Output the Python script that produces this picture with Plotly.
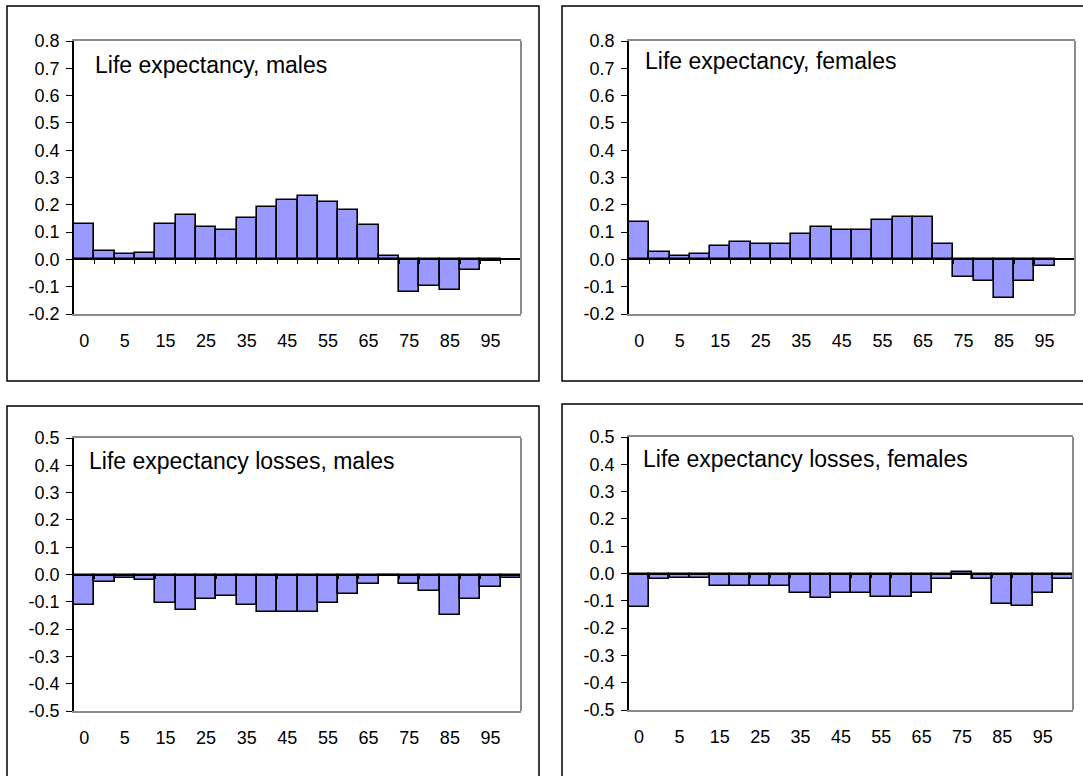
import plotly.graph_objects as go

# ---- data ----
ages = ["0", "1", "5", "10", "15", "20", "25", "30", "35", "40", "45", "50",
        "55", "60", "65", "70", "75", "80", "85", "90", "95", "100"]

le_males = [0.131, 0.032, 0.019, 0.024, 0.131, 0.162, 0.119, 0.107, 0.150, 0.193, 0.219,
            0.232, 0.211, 0.180, 0.125, 0.013, -0.118, -0.099, -0.112, -0.038, -0.006, None]
le_females = [0.138, 0.026, 0.013, 0.019, 0.050, 0.063, 0.056, 0.056, 0.094, 0.119, 0.107,
              0.107, 0.145, 0.156, 0.156, 0.056, -0.064, -0.079, -0.143, -0.079, -0.025, None]
loss_males = [-0.110, -0.028, -0.013, -0.021, -0.103, -0.129, -0.091, -0.078, -0.110, -0.136,
              -0.136, -0.136, -0.103, -0.071, -0.033, -0.007, -0.033, -0.059, -0.148, -0.091,
              -0.047, -0.014]
loss_females = [-0.123, -0.020, -0.016, -0.016, -0.047, -0.047, -0.047, -0.047, -0.071, -0.091,
                -0.071, -0.071, -0.085, -0.085, -0.071, -0.020, 0.006, -0.020, -0.110, -0.118,
                -0.071, -0.020]

titles = ["Life expectancy, males", "Life expectancy, females",
          "Life expectancy losses, males", "Life expectancy losses, females"]

top_ticks = [-0.2, -0.1, 0.0, 0.1, 0.2, 0.3, 0.4, 0.5, 0.6, 0.7, 0.8]
bottom_ticks = [-0.5, -0.4, -0.3, -0.2, -0.1, 0.0, 0.1, 0.2, 0.3, 0.4, 0.5]

# ---- layout geometry (pixels) ----
W, H = 1083, 776
FONT = "Liberation Sans, Arial, sans-serif"
BAR = "#9999FF"
GREY = "#8c8c8c"
TICK_SIZE = 18
TITLE_SIZE = 23

panels = [
    dict(vals=le_males, title=titles[0], ticks=top_ticks,
         plot=(74, 521, 41, 314), box=(7, 539, 6, 381), tpos=(93, 65)),
    dict(vals=le_females, title=titles[1], ticks=top_ticks,
         plot=(629, 1075, 41, 314), box=(562, 1095, 6, 381), tpos=(643, 61)),
    dict(vals=loss_males, title=titles[2], ticks=bottom_ticks,
         plot=(74, 521, 438, 711), box=(7, 539, 406, 790), tpos=(87, 461)),
    dict(vals=loss_females, title=titles[3], ticks=bottom_ticks,
         plot=(629, 1073, 437, 710), box=(562, 1095, 404, 790), tpos=(641, 459)),
]

def px_x(v):
    return v / W

def px_y(v):
    return 1 - v / H

fig = go.Figure()
layout = dict(
    template="none",
    width=W, height=H, margin=dict(l=0, r=0, t=0, b=0, pad=0, autoexpand=False),
    paper_bgcolor="white", plot_bgcolor="white",
    showlegend=False, bargap=0, barmode="overlay",
    font=dict(family=FONT, color="black", size=TICK_SIZE),
)
shapes = []
annotations = []
n = len(ages)
idx = list(range(n))
xrange = [-0.5, n - 0.5]

for i, p in enumerate(panels):
    k = i + 1
    xa = "x" if k == 1 else f"x{k}"
    ya = "y" if k == 1 else f"y{k}"
    ovk = k + 4
    xo = f"x{ovk}"
    x0, x1, yt, yb = p["plot"]
    dom_x = [px_x(x0), px_x(x1)]
    dom_y = [px_y(yb), px_y(yt)]
    ticks = p["ticks"]
    ymin, ymax = ticks[0], ticks[-1]

    fig.add_trace(go.Bar(
        x=idx, y=p["vals"], width=1, xaxis=xa, yaxis=ya,
        marker=dict(color=BAR, line=dict(color="black", width=1.6)),
        hoverinfo="x+y",
    ))
    # transparent copy on the zero-line axis (so that axis is drawn)
    fig.add_trace(go.Bar(
        x=idx, y=p["vals"], width=1, xaxis=xo, yaxis=ya,
        marker=dict(color="rgba(0,0,0,0)", line=dict(width=0)),
        hoverinfo="skip",
    ))

    layout[f"xaxis{'' if k == 1 else k}"] = dict(
        domain=dom_x, anchor=ya, range=xrange, fixedrange=True, automargin=False,
        tickmode="array", tickvals=idx[::2], ticktext=ages[::2],
        ticks="outside", ticklen=9, tickcolor="rgba(0,0,0,0)",
        showline=True, linecolor=GREY, linewidth=2, mirror=True,
        showgrid=False, zeroline=False,
        tickfont=dict(size=TICK_SIZE, family=FONT, color="black"),
    )
    layout[f"yaxis{'' if k == 1 else k}"] = dict(
        domain=dom_y, anchor=xa, range=[ymin, ymax], fixedrange=True, automargin=False,
        tickmode="array", tickvals=ticks, ticktext=[f"{t:.1f}" for t in ticks],
        ticks="outside", ticklen=6, tickwidth=1, tickcolor="black",
        ticklabelstandoff=3,
        showline=True, linecolor="black", linewidth=1.5,
        showgrid=False, zeroline=False,
        tickfont=dict(size=TICK_SIZE, family=FONT, color="black"),
    )
    zero_frac = (0 - ymin) / (ymax - ymin)
    layout[f"xaxis{ovk}"] = dict(
        domain=dom_x, overlaying=xa, anchor="free", automargin=False,
        position=dom_y[0] + zero_frac * (dom_y[1] - dom_y[0]),
        range=xrange, fixedrange=True,
        tickmode="array", tickvals=[v + 0.5 for v in idx],
        ticks="outside", ticklen=4, tickwidth=1, tickcolor="black",
        showticklabels=False, showline=True, linecolor="black", linewidth=1.5,
        showgrid=False, zeroline=False,
    )
    shapes.append(dict(type="line", xref=f"{xa} domain", yref=f"{ya} domain",
                       x0=1, x1=1, y0=0, y1=1, line=dict(color=GREY, width=2)))
    bx0, bx1, by0, by1 = p["box"]
    shapes.append(dict(type="rect", xref="paper", yref="paper",
                       x0=px_x(bx0), x1=px_x(bx1), y0=px_y(by1), y1=px_y(by0),
                       line=dict(color="black", width=1.5)))
    tx, ty = p["tpos"]
    annotations.append(dict(text=p["title"], xref="paper", yref="paper",
                            x=px_x(tx), y=px_y(ty), xanchor="left", yanchor="middle",
                            showarrow=False,
                            font=dict(size=TITLE_SIZE, family=FONT, color="black")))

layout["shapes"] = shapes
layout["annotations"] = annotations
fig.update_layout(**layout)

pin = ("document.documentElement.style.margin='0';document.body.style.margin='0';"
       "document.body.style.padding='0';document.body.style.overflow='hidden';"
       "var d=document.getElementById('{plot_id}');"
       "d.style.position='absolute';d.style.left='0px';d.style.top='0px';")
fig.write_html("out.html", post_script=pin, config={"displayModeBar": False})
